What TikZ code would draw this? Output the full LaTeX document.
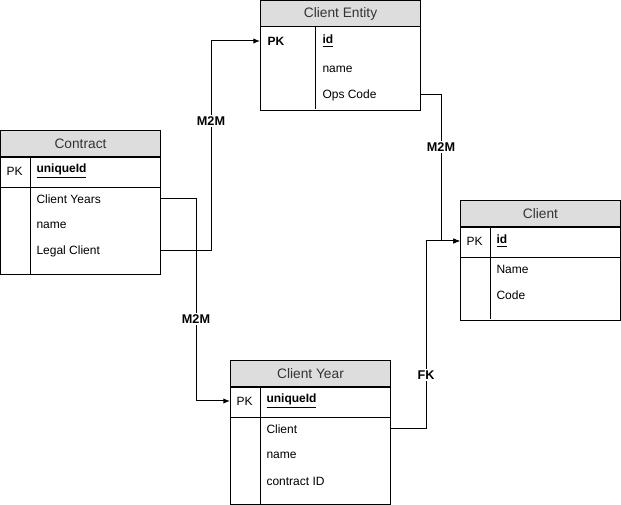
\documentclass[tikz,border=0pt]{standalone}
\usepackage{fontspec}
\setmainfont{Liberation Sans}
\usetikzlibrary{calc,positioning,arrows.meta}
\definecolor{hdrgray}{RGB}{221,221,221}
\definecolor{txtgray}{RGB}{51,51,51}

\begin{document}
\begin{tikzpicture}[x=0.75pt,y=-0.75pt,line width=0.75pt,
    tbl/.style={draw,anchor=north west,minimum width=120pt,inner sep=0pt},
    hdr/.style={tbl,fill=hdrgray,minimum height=19.5pt,text=txtgray,
      font=\fontsize{10.3}{12}\selectfont},
    fld/.style={anchor=west,inner sep=0pt,font=\fontsize{9}{11}\selectfont},
    key/.style={fld,font=\fontsize{9}{11}\selectfont\bfseries},
    link/.style={-{Latex[length=5pt,width=4pt]}},
    tag/.style={fill=white,inner sep=1pt,font=\fontsize{9.5}{11}\selectfont\bfseries}]
  \useasboundingbox (0,0) rectangle (621,505);

  % Contract
  \node[tbl,minimum height=108pt] (contract) at (0,130) {};
  \node[hdr] (contract-h) at (contract.north west) {Contract};
  \node[tbl,minimum height=22.5pt] (contract-row) at (contract-h.south west) {};
  \draw ([xshift=22.5pt]contract-h.south west) -- ([xshift=22.5pt]contract.south west);
  \node[fld] (contract-pk) at (6,171) {PK};
  \node[key] (contract-id) at (36,171) {\underline{uniqueId}};
  \node[fld] (contract-years) at (36,199) {Client Years};
  \node[fld] (contract-name) at (36,225) {name};
  \node[fld] (contract-legal) at (36,251) {Legal Client};

  % Client Entity
  \node[tbl,minimum height=82.5pt] (entity) at (260,0) {};
  \node[hdr] (entity-h) at (entity.north west) {Client Entity};
  \draw ([xshift=41.25pt]entity-h.south west) -- ([xshift=41.25pt,yshift=1.5pt]entity.south west);
  \node[key] (entity-pk) at (267,41) {PK};
  \node[key] (entity-id) at (322,41) {\underline{id}};
  \node[fld] (entity-name) at (322,69) {name};
  \node[fld] (entity-ops) at (322,95) {Ops Code};

  % Client
  \node[tbl,minimum height=90pt] (client) at (460,200) {};
  \node[hdr] (client-h) at (client.north west) {Client};
  \node[tbl,minimum height=22.5pt] (client-row) at (client-h.south west) {};
  \draw ([xshift=22.5pt]client-h.south west) -- ([xshift=22.5pt,yshift=1.5pt]client.south west);
  \node[fld] (client-pk) at (466,241) {PK};
  \node[key] (client-id) at (496,241) {\underline{id}};
  \node[fld] (client-name) at (496,269) {Name};
  \node[fld] (client-code) at (496,295) {Code};

  % Client Year
  \node[tbl,minimum height=108pt] (cyear) at (230,360) {};
  \node[hdr] (cyear-h) at (cyear.north west) {Client Year};
  \node[tbl,minimum height=22.5pt] (cyear-row) at (cyear-h.south west) {};
  \draw ([xshift=22.5pt]cyear-h.south west) -- ([xshift=22.5pt]cyear.south west);
  \node[fld] (cyear-pk) at (236,401) {PK};
  \node[key] (cyear-id) at (266,401) {\underline{uniqueId}};
  \node[fld] (cyear-client) at (266,429) {Client};
  \node[fld] (cyear-name) at (266,455) {name};
  \node[fld] (cyear-contract) at (266,481) {contract ID};

  % links
  \draw[link] (contract-legal -| contract.east) -- ++(50,0)
    |- node[tag,pos=0.31] {M2M} (entity-pk -| entity.west);
  \draw[link] (contract-years -| contract.east) -- ++(35,0)
    |- node[tag,pos=0.297] {M2M} (cyear-pk -| cyear.west);
  \draw[link] (entity-ops -| entity.east) -- ++(20,0)
    |- node[tag,pos=0.178] {M2M} (client-pk -| client.west);
  \draw[link] (cyear-client -| cyear.east) -- ++(35,0)
    |- node[tag,pos=0.144] {FK} (client-pk -| client.west);
\end{tikzpicture}
\end{document}
